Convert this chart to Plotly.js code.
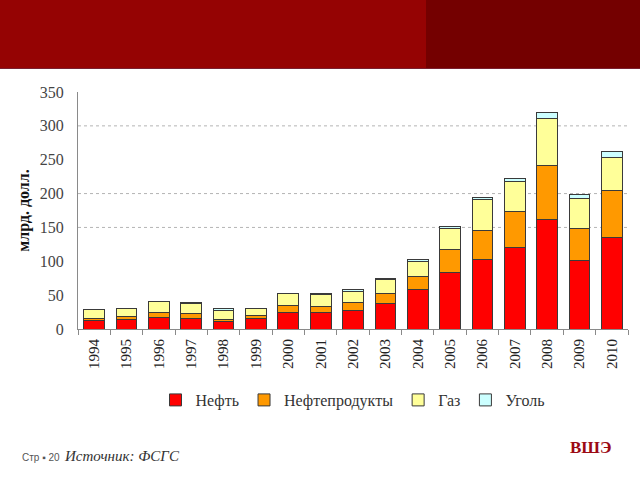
<!DOCTYPE html>
<html>
<head>
<meta charset="utf-8">
<script src="https://cdn.plot.ly/plotly-3.0.1.min.js"></script>
<style>
  html, body { margin: 0; padding: 0; background: #fff; }
  #chart { width: 640px; height: 480px; }
</style>
</head>
<body>
<div id="chart"></div>
<script>
// ---- data (млрд. долл.) ----
const years = ['1994','1995','1996','1997','1998','1999','2000','2001','2002','2003','2004','2005','2006','2007','2008','2009','2010'];
const oil        = [12, 14, 17, 15, 11, 15, 25, 25, 28, 38, 58, 83, 102, 121, 162, 101, 135];
const oilProducts= [ 4,  4,  8,  8,  3,  5, 10,  8, 11, 15, 19, 34,  44,  52,  79,  48,  70];
const gas        = [13, 12, 15, 15, 14, 10, 17, 18, 17, 20, 23, 32,  45,  45,  70,  43,  48];
const coal       = [0.5, 1,  0.5, 1,  2,  1,  1,  2,  2, 1.5, 2,  3,   3,   5,   8,   6,   9];
const seriesNames = ['Нефть', 'Нефтепродукты', 'Газ', 'Уголь'];
const seriesColors = ['#FF0000', '#FF9900', '#FFFF99', '#CCFFFF'];
const yTicks = [0, 50, 100, 150, 200, 250, 300, 350];
const gridValues = [150, 200, 300];

// ---- geometry helpers (pixels -> paper) ----
const W = 640, H = 480, L = 78, R = 12, T = 92, B = 151;
const PW = W - L - R, PH = H - T - B;
const px = v => (v - L) / PW;
const py = v => (H - B - v) / PH;

const serif = '"Liberation Serif", "Times New Roman", serif';

const seriesValues = [oil, oilProducts, gas, coal];
const traces = seriesValues.map((vals, i) => ({
  type: 'bar',
  name: seriesNames[i],
  x: years,
  y: vals,
  marker: { color: seriesColors[i], line: { color: '#3a3a3a', width: 1 } },
  hoverinfo: 'x+y+name'
}));

const shapes = [
  // banner
  { type: 'rect', xref: 'paper', yref: 'paper', x0: px(0), x1: px(426), y0: py(69), y1: py(0),
    fillcolor: '#950303', line: { width: 0 }, layer: 'above' },
  { type: 'rect', xref: 'paper', yref: 'paper', x0: px(426), x1: px(640), y0: py(69), y1: py(0),
    fillcolor: '#740000', line: { width: 0 }, layer: 'above' },
  { type: 'line', xref: 'paper', yref: 'paper', x0: px(0), x1: px(640), y0: py(68.5), y1: py(68.5),
    line: { color: '#7a2030', width: 1 }, layer: 'above' }
].concat(gridValues.map(g => ({
  type: 'line', xref: 'paper', yref: 'y', x0: 0, x1: 1, y0: g, y1: g,
  line: { color: '#b4b4b4', width: 1, dash: 'dot' }, layer: 'below'
})));

const annotations = [
  { xref: 'paper', yref: 'paper', x: px(20), y: py(457), xanchor: 'left', yanchor: 'middle',
    text: 'Стр ▪ 20', showarrow: false, font: { family: '"Liberation Sans", Arial, sans-serif', size: 10, color: '#555' } },
  { xref: 'paper', yref: 'paper', x: px(62), y: py(456), xanchor: 'left', yanchor: 'middle',
    text: '<i>Источник: ФСГС</i>', showarrow: false, font: { family: serif, size: 15, color: '#333' } },
  { xref: 'paper', yref: 'paper', x: px(591), y: py(447), xanchor: 'center', yanchor: 'middle',
    text: '<b>ВШЭ</b>', showarrow: false, font: { family: serif, size: 17, color: '#9c0a14' } }
];

const layout = {
  width: W, height: H,
  margin: { l: L, r: R, t: T, b: B, pad: 0 },
  paper_bgcolor: '#ffffff',
  plot_bgcolor: '#ffffff',
  barmode: 'stack',
  bargap: 0.36,
  showlegend: true,
  font: { family: serif },
  legend: {
    orientation: 'h', x: 0.5, xanchor: 'center', xref: 'paper',
    y: py(400), yanchor: 'middle',
    traceorder: 'normal',
    font: { family: serif, size: 16, color: '#333' },
    itemwidth: 30, tracegroupgap: 0
  },
  xaxis: {
    type: 'category',
    showline: true, linecolor: '#8a8a8a', linewidth: 1,
    ticks: 'outside', tickson: 'boundaries', ticklen: 5, tickcolor: '#8a8a8a',
    tickangle: -90,
    ticklabelstandoff: 3,
    tickfont: { family: serif, size: 15, color: '#222' },
    showgrid: false, zeroline: false, fixedrange: true
  },
  yaxis: {
    range: [0, 350],
    tickvals: yTicks,
    showline: true, linecolor: '#8a8a8a', linewidth: 1,
    ticks: '', showgrid: false, zeroline: false,
    ticklabelstandoff: 10,
    tickfont: { family: serif, size: 16, color: '#444' },
    title: { text: '<b>млрд. долл.</b>', standoff: 6, font: { family: serif, size: 16, color: '#111' } },
    fixedrange: true
  },
  shapes: shapes,
  annotations: annotations
};

Plotly.newPlot('chart', traces, layout, { displayModeBar: false, staticPlot: true });
</script>
</body>
</html>
